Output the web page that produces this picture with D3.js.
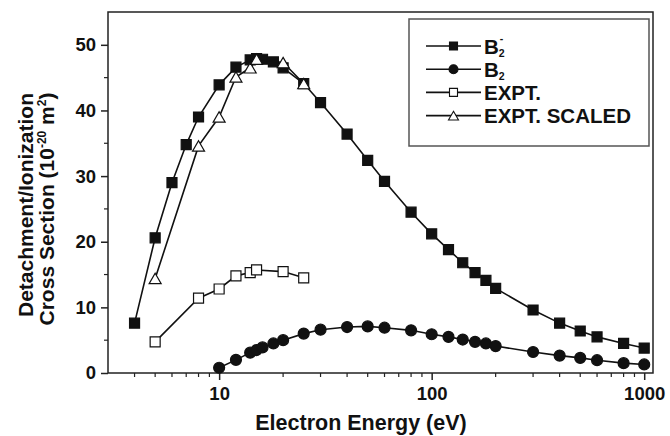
<!DOCTYPE html>
<html>
<head>
<meta charset="utf-8">
<script src="https://cdn.jsdelivr.net/npm/d3@7"></script>
<style>
  body { margin: 0; background: #fff; }
  svg text { font-family: "Liberation Sans", Arial, sans-serif; font-weight: bold; fill: #111; }
</style>
</head>
<body>
<div id="chart"></div>
<script>
// data
var energyAnion = [4, 5, 6, 7, 8, 10, 12, 14, 15, 16, 18, 20, 25, 30, 40, 50, 60, 80, 100, 120, 140, 160, 180, 200, 300, 400, 500, 600, 800, 1000];
var sigmaAnion = [7.6, 20.6, 29.0, 34.8, 39.0, 43.9, 46.6, 47.7, 47.9, 47.8, 47.4, 46.5, 44.1, 41.2, 36.4, 32.4, 29.2, 24.5, 21.2, 18.8, 16.8, 15.3, 14.1, 12.9, 9.6, 7.6, 6.4, 5.5, 4.5, 3.8];

var energyNeutral = [10, 12, 14, 15, 16, 18, 20, 25, 30, 40, 50, 60, 80, 100, 120, 140, 160, 180, 200, 300, 400, 500, 600, 800, 1000];
var sigmaNeutral = [0.8, 2.0, 3.1, 3.5, 3.9, 4.5, 5.0, 6.0, 6.6, 7.0, 7.1, 6.9, 6.5, 5.9, 5.5, 5.1, 4.75, 4.5, 4.1, 3.2, 2.65, 2.3, 1.95, 1.5, 1.3];

var energyExpt = [5, 8, 10, 12, 14, 15, 20, 25];
var sigmaExpt = [4.75, 11.4, 12.8, 14.8, 15.3, 15.7, 15.45, 14.5];
var sigmaExptScaled = [14.4, 34.6, 39.0, 45.1, 46.5, 47.8, 47.3, 44.1];

var xMajor = [10, 100, 1000];
var yTicks = [0, 10, 20, 30, 40, 50];

var W = 670, H = 436;
var m = {t: 12, r: 17, b: 63, l: 108},
    w = W - m.l - m.r,
    h = H - m.t - m.b;

var svg = d3.select("#chart").append("svg")
  .attr("width", W)
  .attr("height", H);

var g = svg.append("g")
  .attr("transform", "translate(" + m.l + "," + m.t + ")");

var x = d3.scaleLog().domain([3, 1100]).range([0, w]);
var y = d3.scaleLinear().domain([0, 55]).range([h, 0]);

// minor ticks for log axis
var xMinor = [];
[1, 10, 100].forEach(function(dec){
  for (var k = 2; k <= 9; k++) {
    var v = k * dec;
    if (v > 3 && v < 1100) xMinor.push(v);
  }
});
var yMinor = [5, 15, 25, 35, 45];

// frame
g.append("rect")
  .attr("x", 0).attr("y", 0)
  .attr("width", w).attr("height", h)
  .attr("fill", "none")
  .attr("stroke", "#222")
  .attr("stroke-width", 1.5);

// x axis
var xAxis = g.append("g").attr("transform", "translate(0," + h + ")");
xAxis.call(d3.axisBottom(x).tickValues(xMajor).tickSize(7).tickPadding(6).tickFormat(d3.format("d")));
xAxis.select(".domain").remove();
xAxis.selectAll("line").attr("stroke", "#222").attr("stroke-width", 1.5);
xAxis.selectAll("text").attr("font-size", "18.5px").attr("dy", "0.75em");

g.append("g").attr("transform", "translate(0," + h + ")")
  .selectAll("line")
  .data(xMinor)
  .enter()
  .append("line")
  .attr("x1", function(d){ return x(d); })
  .attr("x2", function(d){ return x(d); })
  .attr("y1", 0).attr("y2", 4)
  .attr("stroke", "#222")
  .attr("stroke-width", 1.2);

// y axis
var yAxis = g.append("g");
yAxis.call(d3.axisLeft(y).tickValues(yTicks).tickSize(7).tickPadding(5));
yAxis.select(".domain").remove();
yAxis.selectAll("line").attr("stroke", "#222").attr("stroke-width", 1.5);
yAxis.selectAll("text").attr("font-size", "18.5px");

g.append("g")
  .selectAll("line")
  .data(yMinor)
  .enter()
  .append("line")
  .attr("x1", 0).attr("x2", -4)
  .attr("y1", function(d){ return y(d); })
  .attr("y2", function(d){ return y(d); })
  .attr("stroke", "#222")
  .attr("stroke-width", 1.2);

// axis titles
svg.append("text")
  .attr("x", 361).attr("y", 430)
  .attr("text-anchor", "middle")
  .attr("font-size", "21.5px")
  .text("Electron Energy (eV)");

var yt = svg.append("g").attr("transform", "translate(33,205) rotate(-90)");
yt.append("text")
  .attr("text-anchor", "middle")
  .attr("font-size", "21px")
  .text("Detachment/Ionization");
var yt2 = yt.append("text")
  .attr("y", 21)
  .attr("x", -4)
  .attr("text-anchor", "middle")
  .attr("font-size", "21px");
yt2.append("tspan").text("Cross Section (10");
yt2.append("tspan").attr("dy", -8).attr("font-size", "12px").text("-20");
yt2.append("tspan").attr("dy", 8).text(" m");
yt2.append("tspan").attr("dy", -8).attr("font-size", "12px").text("2");
yt2.append("tspan").attr("dy", 8).text(")");

// series
function pairs(xs, ys){ return xs.map(function(v, i){ return {x: v, y: ys[i]}; }); }

var line = d3.line()
  .x(function(d){ return x(d.x); })
  .y(function(d){ return y(d.y); });

function squarePath(s){ var a = s / 2; return "M" + (-a) + "," + (-a) + "H" + a + "V" + a + "H" + (-a) + "Z"; }
function trianglePath(s){ var hh = s * 0.866; return "M0," + (-hh/2) + "L" + (s/2) + "," + (hh/2) + "L" + (-s/2) + "," + (hh/2) + "Z"; }
function circlePath(r){ return "M" + (-r) + ",0A" + r + "," + r + " 0 1,0 " + r + ",0A" + r + "," + r + " 0 1,0 " + (-r) + ",0Z"; }

var series = [
  {name: "anion", data: pairs(energyAnion, sigmaAnion), shape: "square", fill: "#111"},
  {name: "neutral", data: pairs(energyNeutral, sigmaNeutral), shape: "circle", fill: "#111"},
  {name: "expt", data: pairs(energyExpt, sigmaExpt), shape: "square", fill: "#fff"},
  {name: "scaled", data: pairs(energyExpt, sigmaExptScaled), shape: "triangle", fill: "#fff"}
];

function shapeD(shape, big){
  if (shape == "square") return squarePath(big ? 10 : 8);
  if (shape == "circle") return circlePath(big ? 5.5 : 4.5);
  return trianglePath(big ? 12 : 10);
}

series.forEach(function(s){
  var sg = g.append("g").attr("class", "series-" + s.name);
  sg.append("path")
    .datum(s.data)
    .attr("d", line)
    .attr("fill", "none")
    .attr("stroke", "#111")
    .attr("stroke-width", 1.6);
  sg.selectAll(".pt")
    .data(s.data)
    .enter()
    .append("path")
    .attr("class", "pt")
    .attr("transform", function(d){ return "translate(" + x(d.x) + "," + y(d.y) + ")"; })
    .attr("d", shapeD(s.shape, true))
    .attr("fill", s.fill)
    .attr("stroke", "#111")
    .attr("stroke-width", 1.2);
});

// legend
var lg = svg.append("g").attr("transform", "translate(409,19)");
lg.append("rect")
  .attr("width", 240).attr("height", 127)
  .attr("fill", "#fff")
  .attr("stroke", "#555")
  .attr("stroke-width", 1.5);

var legendRows = [
  {shape: "square", fill: "#111", label: "B", sub: "2", sup: "-"},
  {shape: "circle", fill: "#111", label: "B", sub: "2"},
  {shape: "square", fill: "#fff", label: "EXPT."},
  {shape: "triangle", fill: "#fff", label: "EXPT. SCALED"}
];

legendRows.forEach(function(r, i){
  var row = lg.append("g").attr("transform", "translate(0," + (27 + i * 23.2) + ")");
  row.append("line")
    .attr("x1", 17).attr("x2", 72)
    .attr("stroke", "#111").attr("stroke-width", 1.6);
  row.append("path")
    .attr("transform", "translate(44.5,0)")
    .attr("d", shapeD(r.shape, false))
    .attr("fill", r.fill)
    .attr("stroke", "#111")
    .attr("stroke-width", 1.1);
  var t = row.append("text")
    .attr("x", 75).attr("y", 7.5)
    .attr("font-size", "20.5px");
  t.append("tspan").text(r.label);
  // sub/superscripts kept inside the same text element
  if (r.sub) {
    t.append("tspan").attr("dy", 3).attr("font-size", "10.5px").text(r.sub);
  }
  if (r.sup) {
    t.append("tspan").attr("dx", -5).attr("dy", -15).attr("font-size", "10.5px").text(r.sup);
  }
});
</script>
</body>
</html>
